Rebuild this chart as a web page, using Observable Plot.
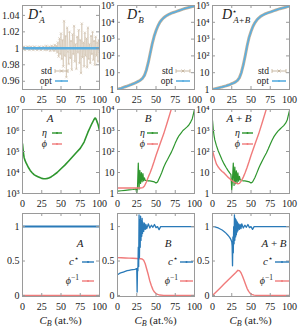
<!DOCTYPE html>
<html><head><meta charset="utf-8">
<script src="https://cdn.jsdelivr.net/npm/d3@7"></script>
<script src="https://cdn.jsdelivr.net/npm/@observablehq/plot@0.6"></script>
<style>
html,body{margin:0;padding:0;background:#fff;}
#chart{position:relative;width:299px;height:329px;overflow:hidden;background:#fff;}
#chart svg{position:absolute;overflow:visible;}
</style></head><body><div id="chart"></div>
<script>
// ---------- tick values and labels ----------
const xTicks = [0, 25, 50, 75, 100];
const xTickLabels = ["0", "25", "50", "75", "100"];
const yTicksRatio = [0.96, 0.98, 1, 1.02, 1.04];
const yLabelsRatio = ["0.96", "0.98", "1", "1.02", "1.04"];
const yTicksD = [1, 10, 100, 1000, 10000, 100000];
const yLabelsD = ["1", "10", "10²", "10³", "10⁴", "10⁵"];
const yTicksEtaA = [1e3, 1e4, 1e5, 1e6, 1e7];
const yLabelsEtaA = ["10³", "10⁴", "10⁵", "10⁶", "10⁷"];
const yTicksEta = [1, 10, 100, 1000, 10000];
const yLabelsEta = ["1", "10", "10²", "10³", "10⁴"];
const yTicksC = [0, 0.5, 1];
const yLabelsC = ["0", "0.5", "1"];

// ---------- row 1: D*_A ----------
const xDA_std = d3.range(0, 101);
const DA_std = [1.001, 0.999, 1.002, 0.998, 1.001, 1.000, 0.999, 1.002, 1.001, 0.998,
  1.000, 1.002, 0.999, 1.001, 0.998, 1.001, 1.002, 0.999, 1.000, 0.998,
  1.001, 0.999, 1.002, 1.000, 0.998, 1.001, 0.999, 1.002, 1.001, 0.998,
  1.000, 1.003, 0.998, 1.001, 0.999, 1.002, 0.997, 1.001, 1.003, 0.998,
  1.002, 0.997, 1.004, 0.998, 1.003,
  0.995, 1.007, 0.990, 1.012, 0.993, 1.018, 0.987, 1.010, 0.978, 1.033,
  0.991, 1.015, 0.965, 1.025, 0.996, 0.981, 1.020, 0.988, 1.009, 0.974,
  1.017, 0.993, 1.027, 0.984, 1.005, 0.975, 1.014, 0.995, 1.022, 0.982,
  1.010, 0.970, 1.030, 0.989, 1.007, 0.978, 1.019, 0.991, 1.012, 0.977,
  1.025, 0.987, 1.005, 0.982, 1.015, 0.993, 1.020, 0.986, 1.009, 0.980,
  1.014, 0.991, 1.007, 0.984, 1.010, 0.996];
const xDA_opt = [0, 25, 50, 75, 100];
const DA_opt = [1, 1, 1, 1, 1];

// ---------- row 1: D*_B and D*_A+B ----------
const xD = [0, 2.5, 5, 7.5, 10, 12.5, 15, 17.5, 20, 22.5, 25, 27.5, 30, 32.5, 35, 37.5, 40, 42.5, 45, 47.5,
  50, 52.5, 55, 57.5, 60, 62.5, 65, 67.5, 70, 72.5, 75, 77.5, 80, 82.5, 85, 87.5, 90, 92.5, 95, 97.5, 100];
const DB_opt = [1, 1.10, 1.20, 1.32, 1.45, 1.58, 1.74, 1.91, 2.14, 2.40, 2.69, 3.09, 3.63, 4.57, 6.76, 14.1, 39.8, 141, 501, 1410,
  3160, 6030, 10000, 14100, 18600, 22900, 26900, 30900, 34700, 38000, 41700, 45700, 50100, 55000, 60300, 66100, 70800, 75900, 81300, 87100, 93300];
const DB_std = [1, 1.11, 1.21, 1.33, 1.46, 1.60, 1.75, 1.93, 2.16, 2.42, 2.72, 3.12, 3.68, 4.65, 6.90, 14.5, 40.5, 143, 505, 1420,
  3180, 6050, 10050, 14150, 18700, 23000, 27000, 31000, 34800, 38100, 41800, 45800, 50200, 55100, 60400, 66200, 70900, 76000, 81400, 87200, 93400];
const DAB_opt = [1, 1.07, 1.15, 1.23, 1.32, 1.41, 1.51, 1.62, 1.78, 1.95, 2.19, 2.45, 2.82, 3.47, 5.01, 10.0, 28.2, 100, 398, 1260,
  2820, 5620, 9330, 13500, 17800, 22400, 26300, 30200, 33900, 37200, 40700, 44700, 49000, 53700, 58900, 64600, 69200, 74100, 79400, 85100, 91200];
const DAB_std = [1, 1.08, 1.16, 1.24, 1.33, 1.42, 1.53, 1.64, 1.80, 1.97, 2.21, 2.48, 2.86, 3.52, 5.10, 10.3, 28.8, 102, 402, 1270,
  2840, 5650, 9360, 13550, 17850, 22450, 26350, 30250, 33950, 37250, 40750, 44750, 49050, 53750, 58950, 64650, 69250, 74150, 79450, 85150, 91250];

// ---------- row 2: eta and phi ----------
const xEtaA = [0, 1, 2, 3, 5, 7.5, 10, 12.5, 15, 17.5, 20, 22.5, 25, 27.5, 30, 32.5, 35, 37.5, 40, 45,
  50, 55, 60, 65, 70, 75, 80, 85, 87.5, 90, 92.5, 94, 95, 96, 97, 98, 99, 100];
const etaA = [234000, 100000, 53700, 39800, 26900, 17800, 12600, 9770, 7940, 6920,
  6310, 5750, 5250, 5010, 5010, 5250, 5620, 6310, 7240, 10000,
  15100, 22400, 35500, 56200, 89100, 141000, 282000, 832000, 1320000, 2090000,
  3160000, 3890000, 3800000, 3160000, 2510000, 2000000, 1410000, 1000000];

const xEtaB = [0, 5, 10, 15, 20, 23, 24, 25, 26, 27, 28, 29, 30, 31, 32, 33, 34, 35, 36, 38,
  40, 42, 45, 48, 50, 52, 55, 57.5, 60, 62.5, 65, 67.5, 70, 72.5, 75, 77.5, 80, 82.5, 85, 87.5,
  90, 92.5, 95, 97, 98, 99, 100];
const etaB = [1.29, 1.35, 1.41, 1.48, 1.55, 1.62, 1.66, 1.0, 2.0, 28.0,
  1.6, 12.6, 3.0, 10.0, 3.6, 8.9, 4.0, 5.5, 4.2, 4.17,
  3.98, 3.98, 3.80, 3.55, 3.16, 3.55, 6.03, 10, 17.8, 28.2,
  41.7, 63.1, 93.3, 151, 251, 398, 575, 759, 1000, 1200,
  1450, 1780, 2510, 3550, 5010, 7080, 10000];
const xPhiB = [0, 5, 10, 15, 20, 25, 30, 33, 35, 37.5, 40, 42.5, 45, 47.5, 50, 55, 60, 65, 70, 75];
const phiB = [1.82, 1.82, 1.82, 1.82, 1.82, 1.82, 1.82, 1.91, 2.29, 3.55, 6.03, 10.0, 17.8, 33.1, 64.6, 214, 692, 2690, 10700, 39800];

const xEtaAB = [0, 1, 2, 3, 5, 7.5, 10, 12.5, 15, 17.5, 20, 22.5, 24, 25, 26, 27, 28, 29, 30, 31,
  32, 33, 34, 35, 36, 38, 40, 42, 45, 48, 50, 52, 55, 57.5, 60, 62.5, 65, 67.5, 70, 72.5,
  75, 77.5, 80, 82.5, 85, 87.5, 90, 92.5, 95, 97, 98, 99, 100];
const etaAB = [3020, 1120, 575, 355, 195, 105, 64.6, 39.8, 25.7, 17.8,
  12.6, 9.33, 7.94, 1.5, 5.0, 28.2, 2.4, 18.0, 2.9, 12.0,
  3.4, 9.5, 3.9, 6.5, 4.5, 4.17, 3.98, 3.98, 3.80, 3.55,
  3.16, 3.55, 5.62, 9.33, 15.8, 25.1, 38.0, 57.5, 85.1, 135,
  224, 355, 525, 708, 933, 1150, 1410, 1700, 2240, 3160,
  4470, 6310, 8910];
const xPhiAB = [0, 2.5, 5, 7.5, 10, 12.5, 15, 17.5, 20, 22.5, 25, 27.5, 30, 33, 35, 37.5, 40, 42.5, 45, 47.5, 50, 55, 60, 65, 70, 75];
const phiAB = [112, 50.1, 25.7, 18.2, 13.8, 11.2, 9.55, 7.59, 6.03, 5.01, 4.17, 3.63, 3.24, 2.88, 3.02, 3.98, 6.03, 10.0, 17.8, 33.1, 64.6, 214, 692, 2690, 10700, 39800];

// ---------- row 3: c* and 1/phi ----------
const xCA = [0, 25, 50, 75, 100];
const cA = [1, 1, 1, 1, 1];
const invPhiA = [0, 0, 0, 0, 0];

const xCB = [0, 2.5, 5, 7.5, 10, 12.5, 15, 17.5, 20, 22.5, 24, 25, 25.5, 26, 26.5, 27, 27.5, 28, 28.5, 29,
  29.5, 30, 30.5, 31, 31.5, 32, 32.5, 33, 34, 35, 36, 37, 38, 40, 42, 44, 46, 48, 50, 52, 54, 56, 60, 70, 80, 90, 100];
const cB = [0.30, 0.32, 0.33, 0.34, 0.35, 0.36, 0.365, 0.37, 0.375, 0.38,
  0.385, 0.39, 0.05, 0.40, 0.36, 0.70, 0.42, 1.17, 0.55, 1.10,
  0.70, 1.15, 0.80, 1.08, 0.86, 1.12, 0.90, 1.06, 0.93, 1.05,
  0.96, 1.03, 0.97, 1.04, 0.98, 1.02, 0.99, 1.03, 0.985, 1.0,
  0.955, 1.0, 1.0, 1.0, 1.0, 1.0, 1.0];
const xInvPhiB = [0, 5, 10, 15, 20, 25, 30, 32, 34, 36, 38, 40, 42, 44, 46, 48, 50, 52, 55, 60, 70, 80, 90, 100];
const invPhiB = [0.55, 0.548, 0.545, 0.542, 0.54, 0.537, 0.533, 0.53, 0.51, 0.46, 0.38, 0.3, 0.21, 0.14, 0.085, 0.05, 0.028, 0.015, 0.006, 0.002, 0, 0, 0, 0];

const cAB = [1.0, 0.998, 0.99, 0.98, 0.965, 0.95, 0.93, 0.905, 0.875, 0.84,
  0.81, 0.78, 0.72, 0.43, 0.85, 0.62, 1.0, 0.75, 1.17, 0.80,
  1.12, 0.85, 1.10, 0.88, 1.08, 0.92, 1.06, 0.94, 1.04, 0.96,
  1.03, 0.97, 1.04, 0.98, 1.02, 0.99, 1.03, 0.985, 1.0, 0.96,
  1.0, 1.0, 1.0, 1.0, 1.0, 1.0, 1.0];
const xInvPhiAB = [0, 5, 10, 15, 20, 25, 30, 33, 35, 37, 39, 41, 43, 45, 47, 49, 51, 54, 58, 65, 100];
const invPhiAB = [0, 0.055, 0.11, 0.165, 0.22, 0.275, 0.33, 0.365, 0.36, 0.33, 0.28, 0.22, 0.16, 0.1, 0.06, 0.03, 0.015, 0.005, 0.001, 0, 0];

// ---------- styling / layout ----------
const FONT = "'Liberation Serif', 'DejaVu Serif', serif";
const COL = {tan: "#d2c4b1", tanDark: "#c2b098", opt: "#5aaee0", green: "#2e962e", red: "#f07b7b", blue: "#2a7ab8", frame: "#9a9a9a", text: "#222"};
const colX = [22, 117, 212], rowY = [5, 109, 213], FW = 77, FH = [84, 84, 83];
const ML = 34, MR = 8, MT = 6, MB = 18;
const chart = document.getElementById("chart");

function panel(col, row, yScale, yTicks, yLabels, marks) {
  const fh = FH[row];
  const svg = Plot.plot({
    width: FW + ML + MR, height: fh + MT + MB,
    marginLeft: ML, marginRight: MR, marginTop: MT, marginBottom: MB,
    style: {fontFamily: FONT, fontSize: "10px", color: COL.text, background: "transparent", overflow: "visible"},
    x: {domain: [0, 100]},
    y: yScale,
    marks: [
      ...marks,
      Plot.frame({stroke: COL.frame}),
      Plot.tickX(xTicks, {x: d => d, insetBottom: fh - 3, stroke: COL.frame}),
      Plot.tickX(xTicks, {x: d => d, insetTop: fh - 3, stroke: COL.frame}),
      Plot.tickY(yTicks, {y: d => d, insetRight: FW - 3, stroke: COL.frame}),
      Plot.tickY(yTicks, {y: d => d, insetLeft: FW - 3, stroke: COL.frame}),
      Plot.axisX({ticks: xTicks, tickSize: 0, tickPadding: 6, label: null, fontFamily: FONT, tickFormat: d => xTickLabels[xTicks.indexOf(d)]}),
      Plot.axisY({ticks: yTicks, tickSize: 0, tickPadding: 3, label: null, fontFamily: FONT, tickFormat: d => yLabels[yTicks.indexOf(d)]})
    ]
  });
  svg.style.left = (colX[col] - ML) + "px";
  svg.style.top = (rowY[row] - MT) + "px";
  chart.append(svg);
}

const line = (ys, xs, color, w = 1.5, extra = {}) => Plot.lineY(ys, {x: xs, stroke: color, strokeWidth: w, clip: true, ...extra});

// Row 1
panel(0, 0, {domain: [0.95, 1.052]}, yTicksRatio, yLabelsRatio, [
  line(DA_std, xDA_std, COL.tan, 0.7),
  Plot.dot(DA_std, {x: xDA_std, y: d => d, symbol: "times", r: 1.2, stroke: COL.tan, strokeWidth: 0.7, clip: true}),
  line(DA_opt, xDA_opt, COL.opt, 2.6)
]);
panel(1, 0, {type: "log", domain: [1, 1e5]}, yTicksD, yLabelsD, [
  line(DB_std, xD, COL.tanDark, 3),
  line(DB_opt, xD, COL.opt, 1.6)
]);
panel(2, 0, {type: "log", domain: [1, 1e5]}, yTicksD, yLabelsD, [
  line(DAB_std, xD, COL.tanDark, 3),
  line(DAB_opt, xD, COL.opt, 1.6)
]);
// Row 2
panel(0, 1, {type: "log", domain: [1e3, 1e7]}, yTicksEtaA, yLabelsEtaA, [
  line(etaA, xEtaA, COL.green, 1.6)
]);
panel(1, 1, {type: "log", domain: [1, 1e4]}, yTicksEta, yLabelsEta, [
  line(etaB, xEtaB, COL.green, 1.2),
  line(phiB, xPhiB, COL.red, 1.4)
]);
panel(2, 1, {type: "log", domain: [1, 1e4]}, yTicksEta, yLabelsEta, [
  line(etaAB, xEtaAB, COL.green, 1.2),
  line(phiAB, xPhiAB, COL.red, 1.4)
]);
// Row 3
panel(0, 2, {domain: [-0.015, 1.19]}, yTicksC, yLabelsC, [
  line(invPhiA, xCA, COL.red, 1.6),
  line(cA, xCA, COL.blue, 2)
]);
panel(1, 2, {domain: [-0.015, 1.19]}, yTicksC, yLabelsC, [
  line(invPhiB, xInvPhiB, COL.red, 1.4),
  line(cB, xCB, COL.blue, 1.3)
]);
panel(2, 2, {domain: [-0.015, 1.19]}, yTicksC, yLabelsC, [
  line(invPhiAB, xInvPhiAB, COL.red, 1.4),
  line(cAB, xCB, COL.blue, 1.3)
]);

// ---------- annotations overlay (titles, keys, axis labels) ----------
const ov = d3.select(chart).append("svg")
  .attr("width", 299).attr("height", 329)
  .style("left", "0px").style("top", "0px")
  .style("font-family", FONT).attr("fill", COL.text);

function txt(x, y, parts, anchor = "start", size = 11) {
  const t = ov.append("text").attr("x", x).attr("y", y).attr("text-anchor", anchor)
    .style("font-size", size + "px").style("font-family", FONT);
  parts.forEach(p => {
    const s = t.append("tspan").text(p.t);
    if (p.i) s.attr("font-style", "italic");
    if (p.dy) s.attr("dy", p.dy);
    if (p.dx) s.attr("dx", p.dx);
    if (p.fs) s.style("font-size", p.fs + "px");
  });
}
function sample(x1, x2, y, color, w = 1.5, mark = "dot") {
  ov.append("line").attr("x1", x1).attr("x2", x2).attr("y1", y).attr("y2", y)
    .attr("stroke", color).attr("stroke-width", w);
  const m = (x1 + x2) / 2;
  if (mark === "times") {
    ov.append("path").attr("d", `M${m-1.5},${y-1.5}L${m+1.5},${y+1.5}M${m-1.5},${y+1.5}L${m+1.5},${y-1.5}`)
      .attr("stroke", color).attr("stroke-width", 0.8);
    ov.append("line").attr("x1", x1).attr("x2", x1).attr("y1", y - 2).attr("y2", y + 2).attr("stroke", color).attr("stroke-width", 0.8);
    ov.append("line").attr("x1", x2).attr("x2", x2).attr("y1", y - 2).attr("y2", y + 2).attr("stroke", color).attr("stroke-width", 0.8);
  } else {
    ov.append("circle").attr("cx", m).attr("cy", y).attr("r", 1).attr("fill", color);
  }
}

// Row 1 titles
const star = "⋆";
txt(28, 19, [{t: "D", i: 1}, {t: star, dy: -5, fs: 8}, {t: "A", i: 1, dx: -4, dy: 9, fs: 9}], "start", 14);
txt(127, 19, [{t: "D", i: 1}, {t: star, dy: -5, fs: 8}, {t: "B", i: 1, dx: -4, dy: 9, fs: 9}], "start", 14);
txt(222, 19, [{t: "D", i: 1}, {t: star, dy: -5, fs: 8}, {t: "A+B", i: 1, dx: -4, dy: 9, fs: 9}], "start", 14);
// Row 1 keys
[[52, 55, 68], [173, 176, 190], [269, 272, 286]].forEach(([tx, s1, s2]) => {
  txt(tx, 73.5, [{t: "std"}], "end", 9.5);
  sample(s1, s2, 71, COL.tanDark, 0.9, "times");
  txt(tx, 84, [{t: "opt"}], "end", 9.5);
  sample(s1, s2, 81, COL.opt, 1.6);
});

// Row 2 keys
txt(50, 122, [{t: "A", i: 1}], "middle", 11);
txt(148, 122, [{t: "B", i: 1}], "middle", 11);
txt(239, 122, [{t: "A", i: 1}, {t: " + "}, {t: "B", i: 1}], "middle", 11);
[[47, 52, 62], [145, 147, 158], [240, 242, 253]].forEach(([tx, s1, s2]) => {
  txt(tx, 135.5, [{t: "η", i: 1}], "end", 10);
  sample(s1, s2, 133, COL.green, 1.4);
  txt(tx, 146.5, [{t: "ϕ", i: 1}], "end", 10);
  sample(s1, s2, 144, COL.red, 1.4);
});

// Row 3 keys
txt(80, 247, [{t: "A", i: 1}], "middle", 11);
txt(168, 247, [{t: "B", i: 1}], "middle", 11);
txt(274, 247, [{t: "A", i: 1}, {t: " + "}, {t: "B", i: 1}], "middle", 11);
[[79, 82, 94], [178, 180, 193], [273, 275, 289]].forEach(([tx, s1, s2]) => {
  txt(tx, 265, [{t: "c", i: 1}, {t: star, dy: -4, fs: 8}], "end", 11);
  sample(s1, s2, 262, COL.blue, 1.4);
  txt(tx, 284, [{t: "ϕ", i: 1}, {t: "−1", dy: -4, fs: 7.5}], "end", 10);
  sample(s1, s2, 281, COL.red, 1.4);
});

// x-axis titles
colX.forEach(cx => {
  txt(cx + FW / 2, 324, [{t: "C", i: 1}, {t: "B", i: 1, fs: 8, dy: 2}, {t: " (at.%)", dy: -2}], "middle", 11);
});
</script>
</body></html>
